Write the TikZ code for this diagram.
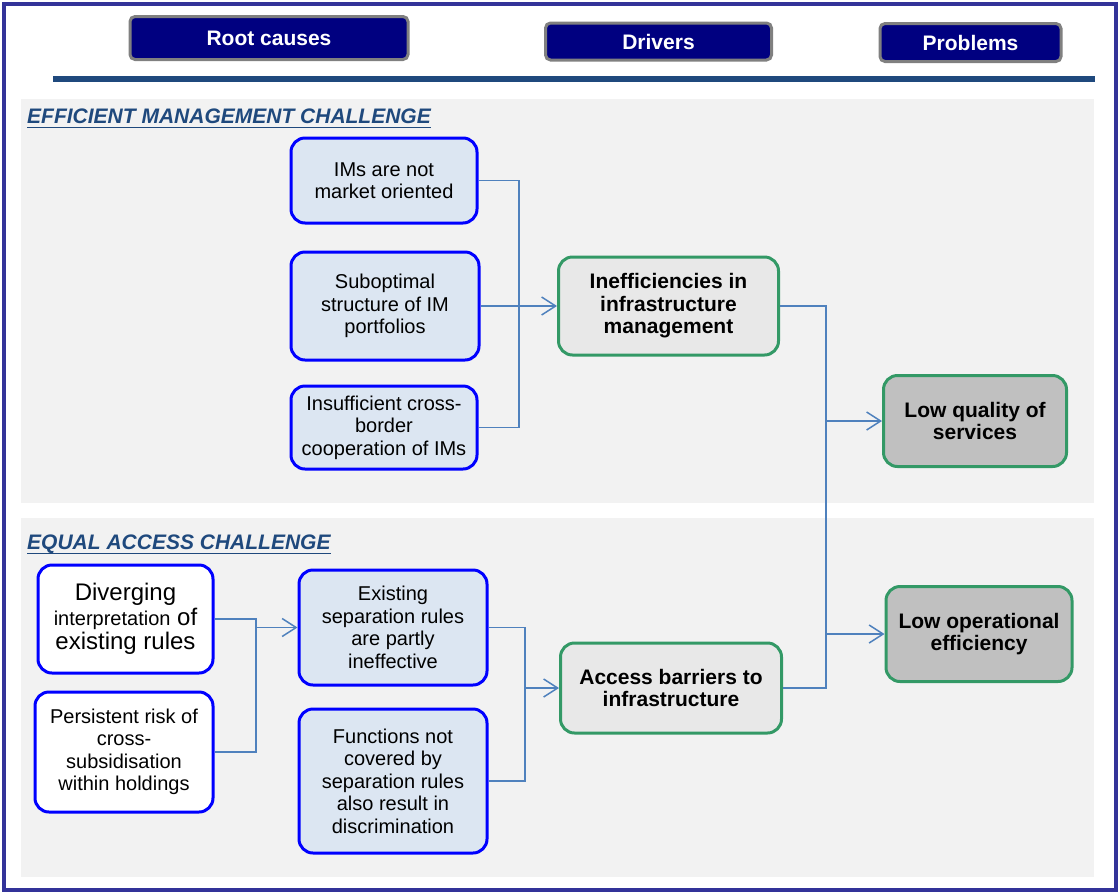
\documentclass[tikz,border=0pt]{standalone}
\usepackage{fontspec}
\setmainfont{Liberation Sans}
\usetikzlibrary{arrows.meta}
\definecolor{framec}{HTML}{333399}
\definecolor{panelc}{HTML}{F2F2F2}
\definecolor{titlec}{HTML}{1F497D}
\definecolor{hdrfill}{HTML}{000080}
\definecolor{hdrline}{HTML}{808080}
\definecolor{bluebd}{HTML}{0000FF}
\definecolor{bluefill}{HTML}{DCE6F2}
\definecolor{greenbd}{HTML}{339966}
\definecolor{drvfill}{HTML}{E8E8E8}
\definecolor{prbfill}{HTML}{C0C0C0}
\definecolor{connc}{HTML}{4F81BD}
\tikzset{
  hdr/.style={draw=hdrline, line width=3pt, fill=hdrfill, rounded corners=5pt,
    text=white, font=\fontsize{21}{23}\selectfont\bfseries, inner sep=0pt},
  titletext/.style={text=titlec, font=\fontsize{21}{23}\selectfont\bfseries\itshape, inner sep=0pt},
  causebox/.style={draw=bluebd, line width=3pt, fill=bluefill, rounded corners=14pt,
    align=center, inner sep=0pt, font=\fontsize{20}{22.5}\selectfont},
  whitebox/.style={causebox, fill=white},
  drvbox/.style={draw=greenbd, line width=3pt, fill=drvfill, rounded corners=14pt,
    align=center, inner sep=0pt, font=\fontsize{21}{22.5}\selectfont\bfseries},
  prbbox/.style={drvbox, fill=prbfill},
  conn/.style={draw=connc, line width=1.5pt},
  arr/.style={conn, -{Straight Barb[length=14pt,width=18pt,line width=1.5pt]}}
}
\begin{document}
\begin{tikzpicture}[x=1pt,y=-1pt]
\useasboundingbox (0,0) rectangle (1118,892);
\fill[white] (0,0) rectangle (1118,892);
\draw[framec, line width=4pt] (4,3.5) rectangle (1116,890);
% panels
\fill[panelc] (21,99) rectangle (1094,503);
\fill[panelc] (21,518) rectangle (1094,877);
% header
\node[hdr, minimum width=278pt, minimum height=43pt] (root) at (269,38) {Root causes};
\node[hdr, minimum width=226pt, minimum height=37pt] (drv) at (658.5,41.5) {Drivers};
\node[hdr, minimum width=181pt, minimum height=38pt] (prb) at (970.5,42.5) {Problems};
\draw[titlec, line width=6pt] (53,79) -- (1095,79);
% titles
\node[titletext, anchor=base west] (t1) at (27,123) {EFFICIENT MANAGEMENT CHALLENGE};
\draw[titlec, line width=1.8pt] ([yshift=-4.5pt]t1.base west) -- ([yshift=-4.5pt]t1.base east);
\node[titletext, anchor=base west] (t2) at (27,549) {EQUAL ACCESS CHALLENGE};
\draw[titlec, line width=1.8pt] ([yshift=-4.5pt]t2.base west) -- ([yshift=-4.5pt]t2.base east);
% top section
\node[causebox, minimum width=186pt, minimum height=85pt] (ims) at (384,180.5) {IMs are not\\market oriented};
\node[causebox, minimum width=188pt, minimum height=108pt] (subopt) at (385,306) {Suboptimal\\structure of IM\\portfolios};
\node[causebox, minimum width=186pt, minimum height=83pt] (insuff) at (384,427.5) {Insufficient cross-\\border\\cooperation of IMs};
\node[drvbox, minimum width=220pt, minimum height=98pt] (ineff) at (668.5,306) {Inefficiencies in\\infrastructure\\management};
\node[prbbox, minimum width=183pt, minimum height=91pt] (lowq) at (975,421) {Low quality of\\services};
% bottom section
\node[whitebox, minimum width=175pt, minimum height=108pt, font=\fontsize{24}{24.5}\selectfont] (div) at (125.5,619) {Diverging\\{\fontsize{20}{22}\selectfont interpretation} of\\existing rules};
\node[whitebox, minimum width=178pt, minimum height=120pt] (pers) at (124,752) {Persistent risk of\\cross-\\subsidisation\\within holdings};
\node[causebox, minimum width=188pt, minimum height=115pt] (exist) at (393,627.5) {Existing\\separation rules\\are partly\\ineffective};
\node[causebox, minimum width=188pt, minimum height=144pt] (func) at (393,781) {Functions not\\covered by\\separation rules\\also result in\\discrimination};
\node[drvbox, minimum width=221pt, minimum height=90pt] (access) at (671,688) {Access barriers to\\infrastructure};
\node[prbbox, minimum width=186pt, minimum height=95pt] (lowop) at (979,634) {Low operational\\efficiency};
% connectors top
\coordinate (j1) at (519,307);
\draw[conn] (ims.east) -- (ims.east -| j1) -- (insuff.east -| j1) -- (insuff.east);
\draw[arr] (subopt.east) -- (ineff.west);
% connectors right
\coordinate (j3) at (826,400);
\draw[conn] (ineff.east) -- (ineff.east -| j3) -- (access.east -| j3) -- (access.east);
\draw[arr] (lowq.west -| j3) -- (lowq.west);
\draw[arr] (lowop.west -| j3) -- (lowop.west);
% connectors bottom left
\coordinate (j4) at (256,700);
\draw[conn] (div.east) -- (div.east -| j4) -- (pers.east -| j4) -- (pers.east);
\draw[arr] (exist.west -| j4) -- (exist.west);
\coordinate (j5) at (525,700);
\draw[conn] (exist.east) -- (exist.east -| j5) -- (func.east -| j5) -- (func.east);
\draw[arr] (access.west -| j5) -- (access.west);
\end{tikzpicture}
\end{document}
